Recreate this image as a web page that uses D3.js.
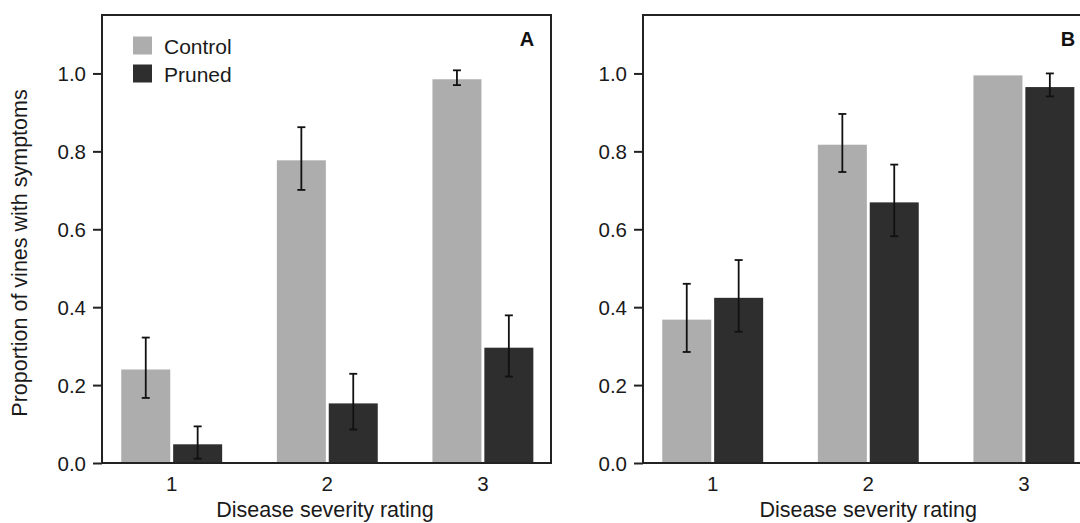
<!DOCTYPE html>
<html>
<head>
<meta charset="utf-8">
<script src="https://cdn.jsdelivr.net/npm/d3@7"></script>
<style>
  body { margin: 0; background: #fff; }
  svg { display: block; font-family: "Liberation Sans", Arial, Helvetica, sans-serif; }
</style>
</head>
<body>
<div id="chart"></div>
<script>
// severity classes and treatments
const ratings = ["1", "2", "3"];
const treatments = ["Control", "Pruned"];
const yTicks = [0, 0.2, 0.4, 0.6, 0.8, 1.0];

// panel A
const controlA = [0.240, 0.777, 0.985];
const controlA_lo = [0.167, 0.701, 0.970];
const controlA_hi = [0.322, 0.862, 1.008];
const prunedA = [0.048, 0.153, 0.296];
const prunedA_lo = [0.011, 0.086, 0.222];
const prunedA_hi = [0.094, 0.229, 0.379];

// panel B
const controlB = [0.368, 0.817, 0.995];
const controlB_lo = [0.285, 0.747, 0.995];
const controlB_hi = [0.460, 0.896, 0.995];
const prunedB = [0.424, 0.669, 0.965];
const prunedB_lo = [0.337, 0.582, 0.941];
const prunedB_hi = [0.521, 0.766, 1.000];

const colors = {Control: "#adadad", Pruned: "#2e2e2e"};

const W = 1080, H = 523;
const svg = d3.select("#chart").append("svg")
    .attr("width", W)
    .attr("height", H);

function buildRows(ctrl, ctrlLo, ctrlHi, pr, prLo, prHi) {
    var rows = [];
    ratings.forEach(function(r, i) {
        rows.push({rating: r, treatment: "Control", value: ctrl[i], lo: ctrlLo[i], hi: ctrlHi[i]});
        rows.push({rating: r, treatment: "Pruned", value: pr[i], lo: prLo[i], hi: prHi[i]});
    });
    return rows;
}

function drawPanel(offset, rows, label, showYTitle, showLegend) {
    const box = {left: 102 + offset, right: 551 + offset, top: 15, bottom: 463};

    const y = d3.scaleLinear().domain([0, 1.15]).range([box.bottom, box.top]);
    const x = d3.scaleBand().domain(ratings)
        .range([93.9 + offset, 560.7 + offset])
        .paddingInner(0.3515)
        .paddingOuter(0.1758);
    const xInner = d3.scaleBand().domain(treatments)
        .range([0, x.bandwidth()])
        .paddingInner(0.056);

    const g = svg.append("g");

    // bars
    g.selectAll(".bar")
        .data(rows)
        .enter().append("rect")
        .attr("class", "bar")
        .attr("x", d => x(d.rating) + xInner(d.treatment))
        .attr("width", xInner.bandwidth())
        .attr("y", d => y(d.value))
        .attr("height", d => y(0) - y(d.value))
        .attr("fill", d => colors[d.treatment]);

    // error bars (skip zero-length ones)
    const eb = g.selectAll(".err")
        .data(rows.filter(d => d.hi - d.lo > 0.001))
        .enter().append("g")
        .attr("class", "err")
        .attr("stroke", "#111")
        .attr("stroke-width", 1.8);
    const cx = d => x(d.rating) + xInner(d.treatment) + xInner.bandwidth() / 2;
    eb.append("line")
        .attr("x1", cx).attr("x2", cx)
        .attr("y1", d => y(d.lo)).attr("y2", d => y(d.hi));
    eb.append("line")
        .attr("x1", d => cx(d) - 4).attr("x2", d => cx(d) + 4)
        .attr("y1", d => y(d.hi)).attr("y2", d => y(d.hi));
    eb.append("line")
        .attr("x1", d => cx(d) - 4).attr("x2", d => cx(d) + 4)
        .attr("y1", d => y(d.lo)).attr("y2", d => y(d.lo));

    // frame
    g.append("rect")
        .attr("x", box.left).attr("y", box.top)
        .attr("width", box.right - box.left)
        .attr("height", box.bottom - box.top)
        .attr("fill", "none")
        .attr("stroke", "#222")
        .attr("stroke-width", 2);

    // y axis
    const yAxis = d3.axisLeft(y)
        .tickValues(yTicks)
        .tickFormat(d3.format(".1f"))
        .tickSize(9)
        .tickPadding(7);
    const ya = g.append("g")
        .attr("transform", "translate(" + box.left + ",0)")
        .call(yAxis);
    ya.select(".domain").remove();
    ya.selectAll(".tick line").attr("stroke", "#222").attr("stroke-width", 2);
    ya.selectAll(".tick text")
        .attr("fill", "#1a1a1a")
        .style("font-size", "20.5px")
        .attr("dy", "0.36em");

    // x axis (labels only)
    const xAxis = d3.axisBottom(x).tickSize(0).tickPadding(13);
    const xa = g.append("g")
        .attr("transform", "translate(0," + box.bottom + ")")
        .call(xAxis);
    xa.select(".domain").remove();
    xa.selectAll(".tick text")
        .attr("fill", "#1a1a1a")
        .style("font-size", "20.5px");

    // x title
    g.append("text")
        .attr("x", 325 + offset * 1.004)
        .attr("y", 516.5)
        .attr("text-anchor", "middle")
        .attr("fill", "#1a1a1a")
        .style("font-size", "21.5px")
        .text("Disease severity rating");

    if (showYTitle) {
        g.append("text")
            .attr("transform", "translate(27,253) rotate(-90)")
            .attr("text-anchor", "middle")
            .attr("fill", "#1a1a1a")
            .style("font-size", "21.5px")
            .text("Proportion of vines with symptoms");
    }

    // panel letter
    g.append("text")
        .attr("x", box.left + 425)
        .attr("y", 46)
        .attr("text-anchor", "middle")
        .attr("fill", "#111")
        .style("font-size", "20px")
        .style("font-weight", "bold")
        .text(label);

    if (showLegend) {
        const lg = g.selectAll(".legend")
            .data(treatments)
            .enter().append("g")
            .attr("class", "legend")
            .attr("transform", (d, i) => "translate(" + (box.left + 31) + "," + (36.5 + i * 28) + ")");
        lg.append("rect")
            .attr("width", 19).attr("height", 18)
            .attr("fill", d => colors[d]);
        lg.append("text")
            .attr("x", 31).attr("y", 17.5)
            .attr("fill", "#1a1a1a")
            .style("font-size", "21px")
            .text(d => d);
    }
}

drawPanel(0, buildRows(controlA, controlA_lo, controlA_hi, prunedA, prunedA_lo, prunedA_hi), "A", true, true);
drawPanel(541, buildRows(controlB, controlB_lo, controlB_hi, prunedB, prunedB_lo, prunedB_hi), "B", false, false);
</script>
</body>
</html>
